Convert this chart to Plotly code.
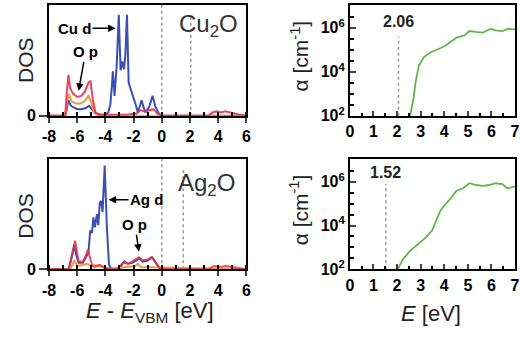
import plotly.graph_objects as go

# ---------------- data ----------------
# Cu2O DOS (E - E_VBM in eV, DOS arbitrary units)
cu_d_E = [-8, -6.85, -6.75, -6.63, -6.45, -6.2, -6.0, -5.7, -5.4, -5.15, -4.95, -4.7, -4.4, -4.0, -3.8,
          -3.65, -3.55, -3.47, -3.35, -3.2, -3.05, -2.92, -2.8, -2.68, -2.58, -2.47, -2.35, -2.25,
          -2.0, -1.85, -1.7, -1.55, -1.43, -1.3, -1.15, -0.9, -0.65, -0.45, -0.2, 0, 6]
cu_d_D = [0, 0, 0.05, 0.14, 0.09, 0.07, 0.06, 0.06, 0.07, 0.09, 0.06, 0.02, 0.01, 0.01, 0.03,
          0.1, 0.25, 0.40, 0.18, 0.45, 0.91, 0.41, 0.49, 0.42, 0.55, 0.91, 0.30, 0.26,
          0.18, 0.10, 0.03, 0.10, 0.14, 0.08, 0.03, 0.08, 0.18, 0.08, 0.02, 0, 0]

cu_op_E = [-8, -6.85, -6.75, -6.62, -6.5, -6.3, -6.0, -5.7, -5.45, -5.2, -5.05, -4.9, -4.7, -4.4,
           -3.5, -2.5, -1.8, -1.5, -1.2, -0.9, -0.6, -0.3, 0, 3.3, 3.6, 3.9, 4.2, 4.5, 4.8, 5.2, 5.5, 6]
cu_op_D = [0, 0, 0.2, 0.37, 0.25, 0.2, 0.17, 0.18, 0.22, 0.3, 0.31, 0.15, 0.03, 0.01,
           0.01, 0.01, 0.02, 0.05, 0.04, 0.05, 0.06, 0.02, 0, 0, 0.03, 0.04, 0.03, 0.04, 0.03, 0.02, 0.01, 0]

cu_s_E = [-8, -6.85, -6.7, -6.6, -6.4, -6.1, -5.8, -5.5, -5.2, -5.0, -4.8, -4.5, 6]
cu_s_D = [0, 0, 0.15, 0.2, 0.13, 0.11, 0.11, 0.13, 0.18, 0.12, 0.03, 0, 0]

# Ag2O DOS
ag_d_E = [-8, -6.6, -6.4, -6.2, -6.05, -5.9, -5.6, -5.4, -5.2, -5.08, -4.95, -4.85, -4.74, -4.6,
          -4.5, -4.4, -4.3, -4.2, -4.05, -3.9, -3.75, -3.6, -3.0, -2.8, -2.65, -2.4, -2.1, -1.8,
          -1.6, -1.35, -1.0, -0.7, -0.4, -0.1, 6]
ag_d_D = [0, 0, 0.1, 0.22, 0.12, 0.06, 0.06, 0.1, 0.15, 0.35, 0.33, 0.47, 0.38, 0.5,
          0.4, 0.6, 0.62, 0.52, 0.94, 0.4, 0.05, 0, 0, 0.05, 0.07, 0.05, 0.06, 0.08,
          0.1, 0.07, 0.08, 0.11, 0.05, 0, 0]

ag_op_E = [-8, -6.6, -6.4, -6.15, -6.0, -5.9, -5.6, -5.4, -5.25, -5.1, -4.95, -4.7, -4.4, -4.1, -3.8,
           -3.2, -2.9, -2.65, -2.4, -2.1, -1.8, -1.62, -1.35, -1.0, -0.7, -0.4, -0.1,
           3.3, 3.7, 4.1, 4.6, 5.0, 5.4, 6]
ag_op_D = [0, 0, 0.12, 0.26, 0.15, 0.07, 0.07, 0.12, 0.18, 0.12, 0.04, 0.03, 0.04, 0.02, 0.01,
           0, 0.04, 0.06, 0.05, 0.07, 0.10, 0.11, 0.08, 0.09, 0.11, 0.05, 0,
           0, 0.03, 0.02, 0.03, 0.02, 0.01, 0]

ag_s_E = [-8, -6.5, -6.2, -6.0, -5.3, -5.1, -4.8, -4.5, -4.2, -3.9, -1.9, -1.7, -1.5, 6]
ag_s_D = [0, 0, 0.08, 0.03, 0.05, 0.04, 0.02, 0.03, 0.02, 0, 0.03, 0.05, 0.02, 0]

# Absorption coefficient (E in eV, alpha in cm^-1)
cu_abs_E = [2.5, 2.56, 2.70, 2.79, 2.93, 3.14, 3.42, 3.69, 4.04, 4.32, 4.52, 4.87, 5.07, 5.35,
            5.63, 5.98, 6.18, 6.46, 6.73, 6.94, 7.0]
cu_abs_A = [50, 100, 646, 3631, 1.95e4, 4.68e4, 7.76e4, 1.0e5, 1.51e5, 2.51e5, 3.55e5, 4.57e5,
            7.08e5, 6.46e5, 6.03e5, 9.12e5, 7.59e5, 7.08e5, 9.12e5, 8.51e5, 8.6e5]

ag_abs_E = [1.95, 2.03, 2.24, 2.52, 2.86, 3.21, 3.49, 3.62, 3.83, 4.04, 4.24, 4.52, 4.80, 5.07,
            5.35, 5.63, 5.90, 6.18, 6.46, 6.67, 6.94, 7.0]
ag_abs_A = [70, 100, 275, 646, 1288, 2818, 6026, 1.41e4, 4.68e4, 9.12e4, 1.55e5, 3.89e5, 5.01e5,
            8.51e5, 7.08e5, 6.46e5, 7.08e5, 8.51e5, 7.76e5, 5.01e5, 6.03e5, 6.0e5]

gaps = [2.06, 1.52]
dos_ticks = [-8, -6, -4, -2, 0, 2, 4, 6]
dos_ticktext = ["-8", "-6", "-4", "-2", "0", "2", "4", "6"]
abs_ticks = [0, 1, 2, 3, 4, 5, 6, 7]
log_tickvals = [1e2, 1e4, 1e6]
log_ticktext = ["10<sup>2</sup>", "10<sup>4</sup>", "10<sup>6</sup>"]

# ---------------- styles ----------------
BLUE = "#3b4fb2"
RED = "#e8304f"
ORANGE = "#f29a3c"
GREEN = "#62b547"
FONT = "Liberation Sans, Arial, sans-serif"
W, H = 520, 337

fig = go.Figure()

def line(x, y, color, xa, ya, width=2, opacity=1.0, dash="solid"):
    fig.add_trace(go.Scatter(x=x, y=y, mode="lines", xaxis=xa, yaxis=ya,
                             line=dict(color=color, width=width, dash=dash), opacity=opacity,
                             showlegend=False, hoverinfo="skip"))

# DOS panels
line(cu_d_E, cu_d_D, BLUE, "x", "y")
line(cu_s_E, cu_s_D, ORANGE, "x", "y")
line(cu_op_E, cu_op_D, RED, "x", "y", opacity=0.9)
line(ag_d_E, ag_d_D, BLUE, "x3", "y3")
line(ag_s_E, ag_s_D, ORANGE, "x3", "y3")
line(ag_op_E, ag_op_D, RED, "x3", "y3", opacity=0.85)

# absorption panels
line(cu_abs_E, cu_abs_A, GREEN, "x2", "y2", width=1.8)
line(ag_abs_E, ag_abs_A, GREEN, "x4", "y4", width=1.8)
# gap markers (dotted) on absorption panels
line([gaps[0], gaps[0]], [1e2, 10**5.6], "#999999", "x2", "y2", width=1.5, dash="dot")
line([gaps[1], gaps[1]], [1e2, 10**5.9], "#999999", "x4", "y4", width=1.5, dash="dot")

# dotted lines on DOS panels (VBM and gap)
shapes = []
for xr, yr, g in [("x", "y", gaps[0]), ("x3", "y3", gaps[1])]:
    for xv, y1 in [(0, 1.0), (g, 0.9)]:
        shapes.append(dict(type="line", xref=xr, yref=yr + " domain", x0=xv, x1=xv, y0=0, y1=y1,
                           line=dict(color="#999999", width=1.5, dash="dot"), layer="below"))

tickfont = dict(family=FONT, size=16, color="black", weight="bold")

def px2x(p):
    return p / W

def py2y(p):
    return 1 - p / H

dos_x = dict(range=[-8, 6], tickvals=dos_ticks, ticktext=dos_ticktext, ticks="outside", ticklen=5,
             tickwidth=2,
             minor=dict(dtick=1, ticks="inside", ticklen=4, tickwidth=1.5, tickcolor="black"),
             showline=True, linewidth=2, linecolor="black", mirror=True, showgrid=False,
             zeroline=False, tickfont=tickfont, fixedrange=True)
dos_y = dict(range=[0, 1], tickvals=[0], ticks="outside", ticklen=8, tickwidth=2,
             showline=True, linewidth=2, linecolor="black", mirror=True, showgrid=False,
             zeroline=False, tickfont=tickfont)
abs_x = dict(range=[0, 7], tickvals=abs_ticks, ticks="inside", ticklen=5, tickwidth=2,
             minor=dict(dtick=0.5, ticks="inside", ticklen=3, tickwidth=1.5, tickcolor="black"),
             showline=True, linewidth=2, linecolor="black", mirror=True, showgrid=False,
             zeroline=False, tickfont=tickfont)
minor_log = [10 ** (k / 2) for k in range(5, 15) if k % 4 != 0]
abs_y = dict(type="log", range=[2, 7.04], tickvals=log_tickvals, ticktext=log_ticktext,
             ticks="inside", ticklen=6, tickwidth=2,
             minor=dict(tickvals=minor_log, ticks="inside", ticklen=4, tickwidth=1.5, tickcolor="black"),
             showline=True, linewidth=2, linecolor="black", mirror=True, showgrid=False,
             zeroline=False, tickfont=tickfont)

top_dom = [py2y(119), py2y(5)]
bot_dom = [py2y(276.7), py2y(163.3)]
left_dom = [px2x(43), px2x(245)]
right_dom = [px2x(351), 1.0]

fig.update_layout(
    width=W, height=H, margin=dict(l=0, r=0, t=0, b=0),
    paper_bgcolor="white", plot_bgcolor="white",
    xaxis=dict(dos_x, domain=left_dom, anchor="y"),
    yaxis=dict(dos_y, domain=top_dom, anchor="x"),
    xaxis2=dict(abs_x, domain=right_dom, anchor="y2"),
    yaxis2=dict(abs_y, domain=top_dom, anchor="x2"),
    xaxis3=dict(dos_x, domain=left_dom, anchor="y3"),
    yaxis3=dict(dos_y, domain=bot_dom, anchor="x3"),
    xaxis4=dict(abs_x, domain=right_dom, anchor="y4"),
    yaxis4=dict(abs_y, domain=bot_dom, anchor="x4"),
    shapes=shapes,
)

title_font = dict(family=FONT, size=21, color="#222222")
lab_font = dict(family=FONT, size=15, color="black", weight="bold")
ann = []
# axis titles
ann.append(dict(text="DOS", x=px2x(19), y=py2y(62), xref="paper", yref="paper", showarrow=False,
                textangle=-90, font=title_font, xanchor="center", yanchor="middle"))
ann.append(dict(text="DOS", x=px2x(19), y=py2y(222), xref="paper", yref="paper", showarrow=False,
                textangle=-90, font=title_font, xanchor="center", yanchor="middle"))
ann.append(dict(text="α [cm<sup>-1</sup>]", x=px2x(300), y=py2y(58), xref="paper", yref="paper",
                showarrow=False, textangle=-90, font=title_font, xanchor="center", yanchor="middle"))
ann.append(dict(text="α [cm<sup>-1</sup>]", x=px2x(299), y=py2y(216), xref="paper", yref="paper",
                showarrow=False, textangle=-90, font=title_font, xanchor="center", yanchor="middle"))
ann.append(dict(text="<i>E</i> - <i>E</i><sub>VBM</sub> [eV]", x=px2x(146), y=py2y(321),
                xref="paper", yref="paper", showarrow=False,
                font=dict(family=FONT, size=22, color="#222222"),
                xanchor="center", yanchor="middle"))
ann.append(dict(text="<i>E</i> [eV]", x=px2x(434), y=py2y(322), xref="paper", yref="paper",
                showarrow=False, font=dict(family=FONT, size=22, color="#222222"),
                xanchor="center", yanchor="middle"))
# compound labels
ann.append(dict(text="Cu<sub>2</sub>O", x=3.3, y=0.81, xref="x", yref="y", showarrow=False,
                font=dict(family=FONT, size=24, color="#333333"), xanchor="center", yanchor="middle"))
ann.append(dict(text="Ag<sub>2</sub>O", x=3.16, y=0.77, xref="x3", yref="y3", showarrow=False,
                font=dict(family=FONT, size=24, color="#333333"), xanchor="center", yanchor="middle"))
# orbital labels with arrows
ann.append(dict(text="Cu d", x=-3.28, y=0.79, xref="x", yref="y", ax=-41, ay=0,
                showarrow=True, arrowhead=2, arrowsize=1, arrowwidth=1.5, arrowcolor="black",
                font=lab_font))
ann.append(dict(text="O p", x=-5.9, y=0.225, xref="x", yref="y", ax=7, ay=-39,
                showarrow=True, arrowhead=2, arrowsize=1, arrowwidth=1.5, arrowcolor="black",
                font=lab_font))
ann.append(dict(text="Ag d", x=-3.77, y=0.63, xref="x3", yref="y3", ax=38, ay=0,
                showarrow=True, arrowhead=2, arrowsize=1, arrowwidth=1.5, arrowcolor="black",
                font=lab_font))
ann.append(dict(text="O p", x=-1.62, y=0.16, xref="x3", yref="y3", ax=-4, ay=-27,
                showarrow=True, arrowhead=2, arrowsize=1, arrowwidth=1.5, arrowcolor="black",
                font=lab_font))
# gap values
ann.append(dict(text=f"{gaps[0]:.2f}", x=gaps[0], y=0.85, xref="x2", yref="y2 domain",
                showarrow=False, font=dict(family=FONT, size=16, color="#222222", weight="bold"),
                xanchor="center", yanchor="middle"))
ann.append(dict(text=f"{gaps[1]:.2f}", x=gaps[1], y=0.876, xref="x4", yref="y4 domain",
                showarrow=False, font=dict(family=FONT, size=16, color="#222222", weight="bold"),
                xanchor="center", yanchor="middle"))
fig.update_layout(annotations=ann)

fig.write_html("out.html")
